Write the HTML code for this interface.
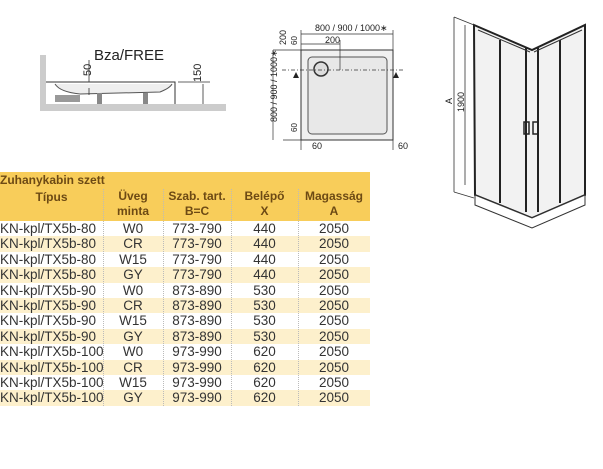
<!DOCTYPE html>
<html><head><meta charset="utf-8"><style>
body{margin:0;width:603px;height:469px;background:#fff;overflow:hidden;position:relative;font-family:"Liberation Sans",sans-serif}
svg{position:absolute;left:0;top:0}
.t{position:absolute;left:0;top:172px;width:370px}
.hd{position:absolute;left:0;top:0;width:370px;height:49px;background:#f8cd5a}
.row{position:absolute;left:0;width:370px;height:15.4px;font-size:13.5px;color:#333;line-height:15.4px}
.row span,.hd span{position:absolute;text-align:center;white-space:nowrap}
.hd span{color:#6d4a14;font-weight:bold;font-size:12px;line-height:15px}
.sep{position:absolute;height:217px;border-left:1px dotted #bbb;z-index:2}
</style></head><body>
<svg width="603" height="469" viewBox="0 0 603 469">
<rect x="40" y="55" width="6" height="55" fill="#ccc"/>
<rect x="40" y="104" width="186" height="7" fill="#ccc"/>
<path d="M46 82 H175 V104" stroke="#333" fill="none" stroke-width="1"/>
<path d="M55 84 Q60 92 80 94 L160 92 Q170 88 172 84" stroke="#555" fill="#eee" stroke-width="1"/>
<rect x="55" y="95" width="25" height="7" fill="#999"/>
<rect x="97" y="93" width="5" height="11" fill="#888"/>
<rect x="143" y="93" width="5" height="11" fill="#888"/>
<text x="94" y="60" font-size="15" fill="#222">Bza/FREE</text>
<text x="91" y="76" font-size="11" fill="#222" transform="rotate(-90 91 76)">50</text>
<text x="201" y="82" font-size="11" fill="#222" transform="rotate(-90 201 82)">150</text>
<path d="M89 60 V82 M89 88 V95 M203 84 V104 M178 82 H210" stroke="#333" stroke-width="0.8"/>
<rect x="301" y="50" width="92" height="90" fill="#f0f0f0" stroke="#333"/>
<rect x="308" y="57" width="79" height="77" rx="4" fill="#e8e8e8" stroke="#555"/>
<circle cx="321" cy="69" r="7" fill="#ddd" stroke="#333" stroke-width="1.5"/>
<path d="M282 70 H405" stroke="#333" stroke-dasharray="4,2,1,2" stroke-width="0.8"/>
<path d="M301 34 H393 M301 44 H340 M273 50 H301 M283 140 H301 M273 50 V140 M301 30 V150 M393 30 V150 M340 40 V70" stroke="#333" stroke-width="0.7"/>
<text x="315" y="31" font-size="9" fill="#222">800 / 900 / 1000∗</text>
<text x="325" y="43" font-size="9" fill="#222">200</text>
<text x="277" y="122" font-size="9" fill="#222" transform="rotate(-90 277 122)">800 / 900 / 1000∗</text>
<text x="286" y="45" font-size="9" fill="#222" transform="rotate(-90 286 45)">200</text>
<text x="297" y="45" font-size="8" fill="#222" transform="rotate(-90 297 45)">60</text>
<text x="297" y="132" font-size="8" fill="#222" transform="rotate(-90 297 132)">60</text>
<text x="312" y="149" font-size="9" fill="#222">60</text>
<text x="398" y="149" font-size="9" fill="#222">60</text>
<path d="M293 78 l3 -6 l3 6 z M393 78 l3 -6 l3 6 z" fill="#222"/>
<path d="M474 25 L532 50 L585 25 L585 195 L532 218 L475 195 Z" fill="#f2f2f2" stroke="#222" stroke-width="2"/>
<path d="M475 195 L532 218 L585 195 L585 205 L532 228 L475 205 Z" fill="#fff" stroke="#333"/>
<path d="M500 40 V203 M526 48 V212 M538 48 V212 M560 40 V203" stroke="#222" stroke-width="2"/>
<path d="M478 30 L530 52 M534 52 L582 30" stroke="#333"/>
<rect x="524" y="122" width="5" height="12" fill="none" stroke="#222" stroke-width="1.5"/>
<rect x="533" y="122" width="5" height="12" fill="none" stroke="#222" stroke-width="1.5"/>
<path d="M454 17 V192 M465 25 V185 M454 17 L474 25 M454 192 L474 198" stroke="#333" stroke-width="0.8"/>
<text x="452" y="104" font-size="9" fill="#222" transform="rotate(-90 452 104)">A</text>
<text x="464" y="112" font-size="9" fill="#222" transform="rotate(-90 464 112)">1900</text>
</svg>
<div class="t">
<div class="hd">
<span style="left:0;top:1px;text-align:left">Zuhanykabin szett</span>
<span style="left:0;width:103px;top:18px">Típus</span>
<span style="left:103px;width:60px;top:17px">Üveg<br>minta</span>
<span style="left:163px;width:68px;top:17px">Szab. tart.<br>B=C</span>
<span style="left:231px;width:67px;top:17px">Belépő<br>X</span>
<span style="left:298px;width:72px;top:17px">Magasság<br>A</span>
</div>
<div class="sep" style="left:103px;top:17px"></div><div class="sep" style="left:163px;top:17px"></div><div class="sep" style="left:231px;top:17px"></div><div class="sep" style="left:298px;top:17px"></div>
</div>
<div style="position:absolute;left:0;top:221px">
<div class="row" style="top:0;background:#fff"><span style="left:0">KN-kpl/TX5b-80</span><span style="left:103px;width:60px">W0</span><span style="left:163px;width:68px">773-790</span><span style="left:231px;width:67px">440</span><span style="left:298px;width:72px">2050</span></div>
<div class="row" style="top:15.4px;background:#fdf0cc"><span style="left:0">KN-kpl/TX5b-80</span><span style="left:103px;width:60px">CR</span><span style="left:163px;width:68px">773-790</span><span style="left:231px;width:67px">440</span><span style="left:298px;width:72px">2050</span></div>
<div class="row" style="top:30.8px;background:#fff"><span style="left:0">KN-kpl/TX5b-80</span><span style="left:103px;width:60px">W15</span><span style="left:163px;width:68px">773-790</span><span style="left:231px;width:67px">440</span><span style="left:298px;width:72px">2050</span></div>
<div class="row" style="top:46.2px;background:#fdf0cc"><span style="left:0">KN-kpl/TX5b-80</span><span style="left:103px;width:60px">GY</span><span style="left:163px;width:68px">773-790</span><span style="left:231px;width:67px">440</span><span style="left:298px;width:72px">2050</span></div>
<div class="row" style="top:61.6px;background:#fff"><span style="left:0">KN-kpl/TX5b-90</span><span style="left:103px;width:60px">W0</span><span style="left:163px;width:68px">873-890</span><span style="left:231px;width:67px">530</span><span style="left:298px;width:72px">2050</span></div>
<div class="row" style="top:77px;background:#fdf0cc"><span style="left:0">KN-kpl/TX5b-90</span><span style="left:103px;width:60px">CR</span><span style="left:163px;width:68px">873-890</span><span style="left:231px;width:67px">530</span><span style="left:298px;width:72px">2050</span></div>
<div class="row" style="top:92.4px;background:#fff"><span style="left:0">KN-kpl/TX5b-90</span><span style="left:103px;width:60px">W15</span><span style="left:163px;width:68px">873-890</span><span style="left:231px;width:67px">530</span><span style="left:298px;width:72px">2050</span></div>
<div class="row" style="top:107.8px;background:#fdf0cc"><span style="left:0">KN-kpl/TX5b-90</span><span style="left:103px;width:60px">GY</span><span style="left:163px;width:68px">873-890</span><span style="left:231px;width:67px">530</span><span style="left:298px;width:72px">2050</span></div>
<div class="row" style="top:123.2px;background:#fff"><span style="left:0">KN-kpl/TX5b-100</span><span style="left:103px;width:60px">W0</span><span style="left:163px;width:68px">973-990</span><span style="left:231px;width:67px">620</span><span style="left:298px;width:72px">2050</span></div>
<div class="row" style="top:138.6px;background:#fdf0cc"><span style="left:0">KN-kpl/TX5b-100</span><span style="left:103px;width:60px">CR</span><span style="left:163px;width:68px">973-990</span><span style="left:231px;width:67px">620</span><span style="left:298px;width:72px">2050</span></div>
<div class="row" style="top:154px;background:#fff"><span style="left:0">KN-kpl/TX5b-100</span><span style="left:103px;width:60px">W15</span><span style="left:163px;width:68px">973-990</span><span style="left:231px;width:67px">620</span><span style="left:298px;width:72px">2050</span></div>
<div class="row" style="top:169.4px;background:#fdf0cc"><span style="left:0">KN-kpl/TX5b-100</span><span style="left:103px;width:60px">GY</span><span style="left:163px;width:68px">973-990</span><span style="left:231px;width:67px">620</span><span style="left:298px;width:72px">2050</span></div>
</div>
</body></html>
